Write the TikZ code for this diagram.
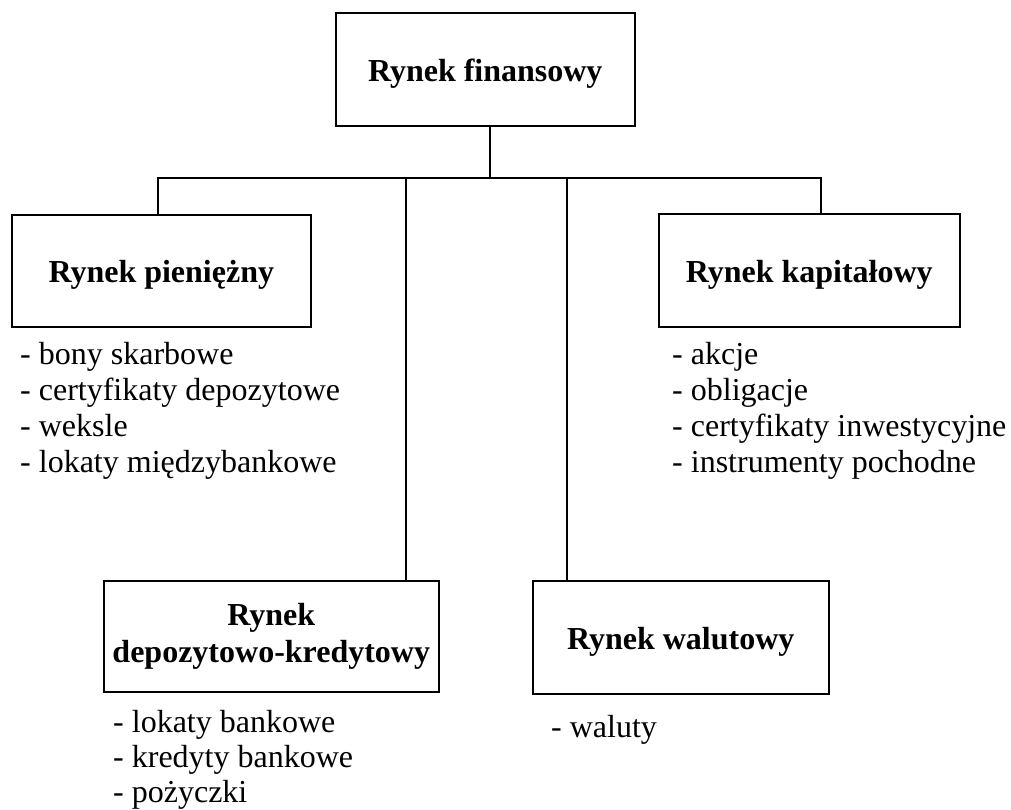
\documentclass[tikz,border=0pt]{standalone}
\usepackage{fontspec}
\setmainfont{Liberation Serif}
\begin{document}
\begin{tikzpicture}[x=1pt,y=-1pt,
  box/.style={draw, line width=1.6pt, inner sep=0pt, anchor=north west,
    font=\fontsize{32}{37}\selectfont\bfseries, text height=26pt, text depth=2pt},
  itemlist/.style={anchor=base west, inner sep=0pt, font=\fontsize{32}{36.3}\selectfont},
  link/.style={draw, line width=1.4pt}]
\useasboundingbox (0,0) rectangle (1011,809);
% boxes
\node[box, minimum width=299pt, minimum height=113pt] (fin) at (335,12) {Rynek finansowy};
\node[box, minimum width=299pt, minimum height=112pt] (pien) at (11,214) {Rynek pieniężny};
\node[box, minimum width=301pt, minimum height=113pt] (kap) at (658,213) {Rynek kapitałowy};
\node[box, minimum width=335pt, minimum height=111pt, text height=26pt, text depth=47pt] (dep) at (103,580)
  {\begin{tabular}[t]{@{}c@{}}Rynek\\depozytowo-kredytowy\end{tabular}};
\node[box, minimum width=296pt, minimum height=113pt] (wal) at (532,580) {Rynek walutowy};
% junction points
\coordinate (j) at (490,178);
\coordinate (hl) at (158,178);
\coordinate (hr) at (821,178);
\coordinate (d1) at (406,178);
\coordinate (w1) at (567,178);
% connectors
\draw[link] (fin.south -| j) -- (j);
\draw[link] (pien.north -| hl) -- (hl) -- (hr) -- (kap.north -| hr);
\draw[link] (d1) -- (dep.north -| d1);
\draw[link] (w1) -- (wal.north -| w1);
% lists
\node[itemlist] (lpien) at (20,364) {\begin{tabular}[t]{@{}l@{}}- bony skarbowe\\- certyfikaty depozytowe\\- weksle\\- lokaty międzybankowe\end{tabular}};
\node[itemlist] (lkap) at (672,364) {\begin{tabular}[t]{@{}l@{}}- akcje\\- obligacje\\- certyfikaty inwestycyjne\\- instrumenty pochodne\end{tabular}};
\node[itemlist, font=\fontsize{32}{35}\selectfont] (ldep) at (113,732) {\begin{tabular}[t]{@{}l@{}}- lokaty bankowe\\- kredyty bankowe\\- pożyczki\end{tabular}};
\node[itemlist] (lwal) at (551,737) {- waluty};
\end{tikzpicture}
\end{document}
